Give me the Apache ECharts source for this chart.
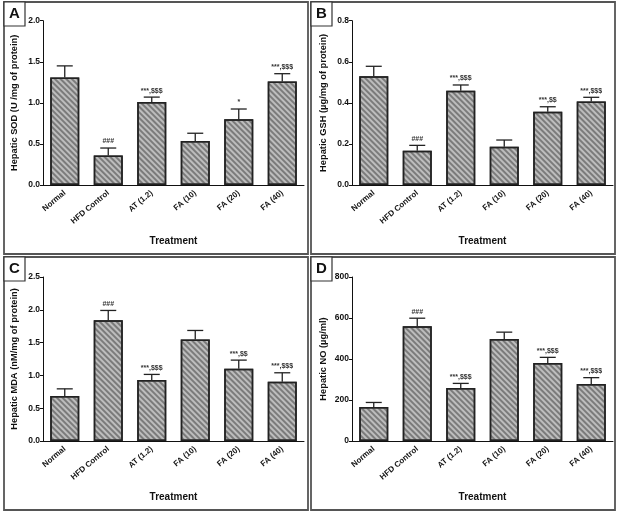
<!DOCTYPE html>
<html>
<head>
<meta charset="utf-8">
<script src="https://cdn.jsdelivr.net/npm/echarts@6/dist/echarts.min.js"></script>
<style>
html,body{margin:0;padding:0;background:#fff;}
#chart{width:619px;height:512px;}
</style>
</head>
<body>
<div id="chart"></div>
<script>
const categories = ['Normal', 'HFD Control', 'AT (1.2)', 'FA (10)', 'FA (20)', 'FA (40)'];

const sodMean = [1.31, 0.36, 1.01, 0.535, 0.80, 1.26];
const sodSem  = [0.14, 0.09, 0.06, 0.095, 0.125, 0.095];
const sodSig  = ['', '###', '***,$$$', '', '*', '***,$$$'];

const gshMean = [0.53, 0.167, 0.459, 0.186, 0.357, 0.406];
const gshSem  = [0.048, 0.026, 0.028, 0.033, 0.024, 0.021];
const gshSig  = ['', '###', '***,$$$', '', '***,$$', '***,$$$'];

const mdaMean = [0.685, 1.84, 0.928, 1.548, 1.10, 0.903];
const mdaSem  = [0.11, 0.15, 0.087, 0.137, 0.133, 0.137];
const mdaSig  = ['', '###', '***,$$$', '', '***,$$', '***,$$$'];

const noMean = [166, 560, 258, 498, 381, 278];
const noSem  = [22, 39, 23, 33, 27, 31];
const noSig  = ['', '###', '***,$$$', '', '***,$$$', '***,$$$'];

const yNames = ['Hepatic SOD (U /mg of protein)', 'Hepatic GSH (\u00b5g/mg of protein)',
                'Hepatic MDA (nM/mg of protein)', 'Hepatic NO (\u00b5g/ml)'];
const yMax = [2.0, 0.8, 2.5, 800];
const yInterval = [0.5, 0.2, 0.5, 200];
const yDecimals = [1, 1, 1, 0];
const panelLetters = ['A', 'B', 'C', 'D'];

const panels = [
  {mean: sodMean, sem: sodSem, sig: sodSig},
  {mean: gshMean, sem: gshSem, sig: gshSig},
  {mean: mdaMean, sem: mdaSem, sig: mdaSig},
  {mean: noMean, sem: noSem, sig: noSig}
];

const FONT = '"Liberation Sans", Arial, sans-serif';
const grids = [
  {left: 43, top: 20.7, width: 261, height: 164.3},
  {left: 352, top: 20.7, width: 261, height: 164.3},
  {left: 43, top: 277, width: 261, height: 164},
  {left: 352, top: 277, width: 261, height: 164}
];

const xAxes = [], yAxes = [], series = [];
panels.forEach((p, k) => {
  xAxes.push({
    type: 'category', gridIndex: k, data: categories,
    name: 'Treatment', nameLocation: 'middle', nameGap: 51,
    nameTextStyle: {fontFamily: FONT, fontWeight: 'bold', fontSize: 10, color: '#111'},
    axisLine: {lineStyle: {color: '#111', width: 1}},
    axisTick: {alignWithLabel: true, length: 3, lineStyle: {color: '#111'}},
    axisLabel: {rotate: 40, fontFamily: FONT, fontWeight: 'bold', fontSize: 8, color: '#111', margin: 7, interval: 0}
  });
  yAxes.push({
    type: 'value', gridIndex: k, min: 0, max: yMax[k], interval: yInterval[k],
    name: yNames[k], nameLocation: 'middle', nameGap: 24,
    nameTextStyle: {fontFamily: FONT, fontWeight: 'bold', fontSize: 9.3, color: '#111'},
    axisLine: {show: true, lineStyle: {color: '#111', width: 1}},
    axisTick: {show: true, length: 3, lineStyle: {color: '#111'}},
    splitLine: {show: false},
    axisLabel: {fontFamily: FONT, fontWeight: 'bold', fontSize: 8.5, color: '#111', margin: 3,
      formatter: v => v.toFixed(yDecimals[k])}
  });
  series.push({
    type: 'bar', xAxisIndex: k, yAxisIndex: k, barWidth: 29,
    data: p.mean,
    itemStyle: {
      color: '#bdbdbd', borderColor: '#222', borderWidth: 1.5,
      decal: {symbol: 'rect', symbolSize: 1, color: 'rgba(70,70,70,0.55)',
              dashArrayX: [1, 0], dashArrayY: [1.2, 1.6], rotation: Math.PI / 4}
    },
    silent: true
  });
  series.push({
    type: 'custom', xAxisIndex: k, yAxisIndex: k,
    data: categories.map((c, i) => [i, p.mean[i], p.sem[i]]),
    renderItem: function (params, api) {
      const i = api.value(0);
      const base = api.coord([i, api.value(1)]);
      const top = api.coord([i, api.value(1) + api.value(2)]);
      const style = {stroke: '#222', lineWidth: 1.3};
      const children = [
        {type: 'line', shape: {x1: base[0], y1: base[1], x2: base[0], y2: top[1]}, style: style},
        {type: 'line', shape: {x1: base[0] - 8, y1: top[1], x2: base[0] + 8, y2: top[1]}, style: style}
      ];
      const s = p.sig[params.dataIndex];
      if (s) {
        children.push({type: 'text', x: base[0], y: top[1] - 3,
          style: {text: s, fontSize: 7, fontFamily: FONT, fontWeight: 'bold', fill: '#333',
                  align: 'center', verticalAlign: 'bottom'}});
      }
      return {type: 'group', children: children};
    },
    silent: true, z: 3
  });
});

const boxes = [
  {x: 4, y: 2, w: 304, h: 252},
  {x: 311, y: 2, w: 304, h: 252},
  {x: 4, y: 257, w: 304, h: 253},
  {x: 311, y: 257, w: 304, h: 253}
];
const graphic = [];
boxes.forEach((b, k) => {
  graphic.push({type: 'rect', shape: {x: b.x, y: b.y, width: b.w, height: b.h},
    style: {fill: 'none', stroke: '#555', lineWidth: 1.8}, silent: true});
  graphic.push({type: 'rect', shape: {x: b.x, y: b.y, width: 21, height: 24},
    style: {fill: '#fff', stroke: '#333', lineWidth: 1.2}, silent: true});
  graphic.push({type: 'text', x: b.x + 10.5, y: b.y + 12,
    style: {text: panelLetters[k], fontSize: 15, fontWeight: 'bold', fontFamily: FONT, fill: '#111',
            align: 'center', verticalAlign: 'middle'}, silent: true});
});

const chart = echarts.init(document.getElementById('chart'), null, {renderer: 'canvas'});
chart.setOption({
  animation: false,
  backgroundColor: '#fff',
  grid: grids,
  xAxis: xAxes,
  yAxis: yAxes,
  series: series,
  graphic: graphic
});
</script>
</body>
</html>
